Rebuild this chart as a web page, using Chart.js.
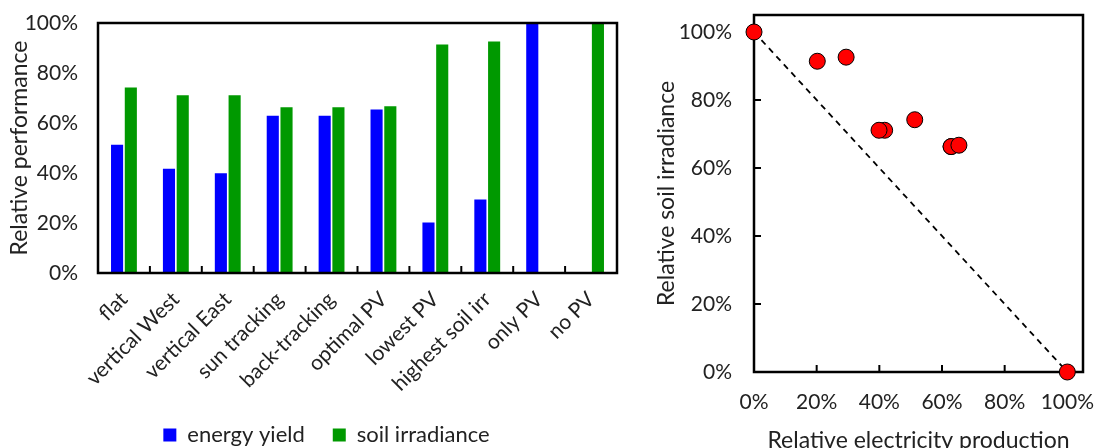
<!DOCTYPE html>
<html>
<head>
<meta charset="utf-8">
<script src="https://cdn.jsdelivr.net/npm/chart.js@4.4.1/dist/chart.umd.min.js"></script>
<style>
  html, body { margin: 0; padding: 0; background: #fff; }
  #wrap { position: relative; width: 1096px; height: 448px; overflow: hidden; }
  #perf { position: absolute; left: 0; top: 0; }
  #trade { position: absolute; left: 640px; top: 0; }
</style>
</head>
<body>
<div id="wrap">
  <canvas id="perf" width="652" height="448"></canvas>
  <canvas id="trade" width="456" height="448"></canvas>
</div>
<script>
const categories = ["flat", "vertical West", "vertical East", "sun tracking", "back-tracking",
  "optimal PV", "lowest PV", "highest soil irr", "only PV", "no PV"];
// values in percent
const energyYield = [51.3, 41.7, 39.9, 62.9, 62.9, 65.4, 20.2, 29.4, 100, 0];
const soilIrradiance = [74.2, 71.1, 71.1, 66.3, 66.3, 66.7, 91.4, 92.6, 0, 100];
const percentTicks = [0, 20, 40, 60, 80, 100];
const diagonal = [{ x: 0, y: 100 }, { x: 100, y: 0 }];

const FAMILY = "Lato, 'Open Sans', sans-serif";
const TICK_FONT = { family: FAMILY, size: 21 };
const TITLE_FONT = { family: FAMILY, size: 23 };
const LEGEND_FONT = { family: FAMILY, size: 22 };
const TEXT = "#222";

// box round the plot area plus short ticks pointing inward
const frame = {
  id: "frame",
  draw(chart, opts) {
    const { ctx, chartArea: a } = chart;
    ctx.save();
    ctx.strokeStyle = "#000";
    ctx.lineWidth = 2.5;
    ctx.strokeRect(a.left, a.top, a.right - a.left, a.bottom - a.top);
    ctx.lineWidth = 2;
    const len = 7;
    const x = chart.scales.x, y = chart.scales.y;
    if (opts.mode === "category") {
      for (let i = 1; i < categories.length; i++) {
        const px = (x.getPixelForValue(i - 1) + x.getPixelForValue(i)) / 2;
        ctx.beginPath(); ctx.moveTo(px, a.bottom); ctx.lineTo(px, a.bottom - len); ctx.stroke();
      }
    } else {
      percentTicks.forEach(v => {
        const px = x.getPixelForValue(v);
        ctx.beginPath(); ctx.moveTo(px, a.bottom); ctx.lineTo(px, a.bottom - len); ctx.stroke();
        const py = y.getPixelForValue(v);
        ctx.beginPath(); ctx.moveTo(a.left, py); ctx.lineTo(a.left + len, py); ctx.stroke();
      });
    }
    ctx.restore();
  },
  afterLayout(chart, args, opts) {
    // legend sits a bit right of the plot centre
    if (opts.legendShift && chart.legend) {
      chart.legend.left += opts.legendShift;
      chart.legend.right += opts.legendShift;
    }
  },
  beforeDatasetsDraw(chart, args, opts) { if (!opts.after) this.draw(chart, opts); },
  afterDatasetsDraw(chart, args, opts) { if (opts.after) this.draw(chart, opts); }
};

const pct = v => v + "%";
// fixed axis size, no extra room for overhanging labels
const fixHeight = h => s => { s.height = h; s.paddingLeft = 0; s.paddingRight = 0; };
const fixWidth = w => s => { s.width = w; s.paddingTop = 0; s.paddingBottom = 0; };

//bar chart of the scenarios
const ctxPerf = document.getElementById("perf").getContext("2d");
const perfChart = new Chart(ctxPerf, {
  type: "bar",
  data: {
    labels: categories,
    datasets: [
      { label: "energy yield", data: energyYield, backgroundColor: "#0000ff",
        barPercentage: 0.88, categoryPercentage: 0.53 },
      { label: "soil irradiance", data: soilIrradiance, backgroundColor: "#009900",
        barPercentage: 0.88, categoryPercentage: 0.53 },
    ],
  },
  options: {
    responsive: false,
    animation: false,
    layout: { padding: { top: 23, right: 35, left: 0, bottom: -8 } },
    plugins: {
      legend: {
        position: "bottom",
        labels: { font: LEGEND_FONT, color: TEXT, boxWidth: 13, boxHeight: 13, padding: 28 },
      },
      tooltip: { enabled: false },
      frame: { mode: "category", after: true, legendShift: 18 },
    },
    scales: {
      x: {
        grid: { display: false, drawTicks: false },
        border: { display: false },
        ticks: { font: TICK_FONT, color: TEXT, minRotation: 45, maxRotation: 45, autoSkip: false, padding: 14 },
        afterFit: fixHeight(123),
      },
      y: {
        min: 0,
        max: 100,
        grid: { display: false, drawTicks: false },
        border: { display: false },
        ticks: { stepSize: 20, callback: pct, font: TICK_FONT, color: TEXT, padding: 20 },
        title: { display: true, text: "Relative performance", font: TITLE_FONT, color: TEXT,
          padding: { top: 6, bottom: 0 } },
        afterFit: fixWidth(98),
      },
    },
  },
  plugins: [frame],
});

//scatter of soil irradiance against electricity
const tradePoints = energyYield.map((e, i) => ({ x: e, y: soilIrradiance[i] }));
const ctxTrade = document.getElementById("trade").getContext("2d");
const tradeChart = new Chart(ctxTrade, {
  type: "scatter",
  data: {
    datasets: [
      { data: tradePoints, backgroundColor: "#ff0000", borderColor: "#000", borderWidth: 1,
        pointRadius: 8, clip: false, order: 1 },
      { type: "line", data: diagonal, borderColor: "#000", borderWidth: 1.8, borderDash: [6, 5],
        pointRadius: 0, fill: false, clip: false, order: 2 },
    ],
  },
  options: {
    responsive: false,
    animation: false,
    layout: { padding: { top: 15, right: 13, left: 0, bottom: 0 } },
    plugins: {
      legend: { display: false },
      tooltip: { enabled: false },
      frame: { mode: "linear", after: false },
    },
    scales: {
      x: {
        type: "linear",
        min: 0,
        max: 105,
        grid: { display: false, drawTicks: false },
        border: { display: false },
        ticks: { stepSize: 20, includeBounds: false, callback: pct, font: TICK_FONT, color: TEXT, padding: 18 },
        title: { display: true, text: "Relative electricity production", font: TITLE_FONT, color: TEXT,
          padding: { top: 0, bottom: -6 } },
        afterFit: fixHeight(76),
      },
      y: {
        min: 0,
        max: 105,
        grid: { display: false, drawTicks: false },
        border: { display: false },
        ticks: { stepSize: 20, includeBounds: false, callback: pct, font: TICK_FONT, color: TEXT, padding: 22 },
        title: { display: true, text: "Relative soil irradiance", font: TITLE_FONT, color: TEXT,
          padding: { top: 13, bottom: 0 } },
        afterFit: fixWidth(114),
      },
    },
  },
  plugins: [frame],
});
</script>
</body>
</html>
